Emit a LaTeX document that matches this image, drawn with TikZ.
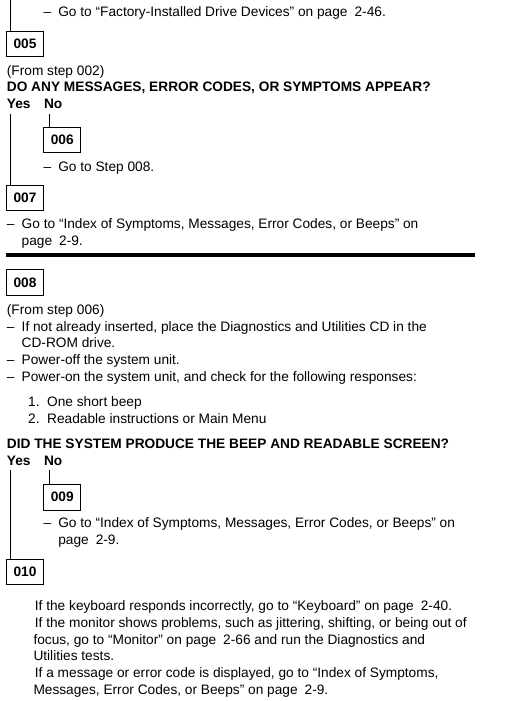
\documentclass[tikz,border=0pt]{standalone}
\usepackage{fontspec}
\setmainfont{Liberation Sans}
\usetikzlibrary{positioning}
\newcommand{\bodyfont}{\fontsize{13.7}{16.7}\selectfont}
\newcommand{\itemdash}{\makebox[14.8pt][l]{–}}
\newcommand{\itemnum}[1]{\makebox[19pt][l]{#1}}
\newcommand{\pg}{\hspace{7pt}}
\tikzset{
  stepbox/.style = {rectangle, draw, line width=1pt, minimum width=37.4pt, minimum height=25.6pt, inner sep=0pt, font=\bodyfont\bfseries},
  txt/.style     = {anchor=base west, inner sep=0pt, font=\bodyfont},
  hd/.style      = {anchor=base west, inner sep=0pt, font=\bodyfont\bfseries},
  link/.style    = {line width=1pt},
  rulebar/.style = {line width=4pt},
}

\begin{document}
\begin{tikzpicture}[x=1pt, y=-1pt]
  \useasboundingbox (0,0) rectangle (504,701);

  % tail of step 004 and step 005
  \coordinate (intop) at (10.3,0);
  \node[txt] (go46) at (43.3,16.7) {\itemdash Go to “Factory-Installed Drive Devices” on page\pg 2-46.};
  \node[stepbox] (s005) at (25,43.9) {005};
  \draw[link] (intop) -- (intop |- s005.north);

  \node[txt] (from002) at (6.7,75) {(From step 002)};
  \node[hd] (q1) at (6.7,91.7) {DO ANY MESSAGES, ERROR CODES, OR SYMPTOMS APPEAR?};
  \node[hd] (yes1) at (6.7,108.3) {Yes};
  \node[hd] (no1) at (43.8,108.3) {No};

  \node[stepbox] (s006) at (62.2,140) {006};
  \node[txt] (go008) at (43.3,171) {\itemdash Go to Step 008.};
  \node[stepbox] (s007) at (25,198) {007};
  \coordinate (yes1l) at (10.3,114);
  \coordinate (no1l) at (49,114);
  \draw[link] (yes1l) -- (yes1l |- s007.north);
  \draw[link] (no1l) -- (no1l |- s006.north);

  \node[txt] (goidx1) at (6.7,228.5) {\itemdash Go to “Index of Symptoms, Messages, Error Codes, or Beeps” on};
  \node[txt] (goidx1b) at (21.5,245) {page\pg 2-9.};

  \coordinate (rulel) at (6,254.5);
  \coordinate (ruler) at (475,254.5);
  \draw[rulebar] (rulel) -- (ruler);

  % step 008
  \node[stepbox] (s008) at (25,282.5) {008};
  \node[txt] (from006) at (6.7,314) {(From step 006)};
  \node[txt] (cd1) at (6.7,331) {\itemdash If not already inserted, place the Diagnostics and Utilities CD in the};
  \node[txt] (cd2) at (21.5,347.7) {CD-ROM drive.};
  \node[txt] (poff) at (6.7,364.3) {\itemdash Power-off the system unit.};
  \node[txt] (pon) at (6.7,381.7) {\itemdash Power-on the system unit, and check for the following responses:};
  \node[txt] (r1) at (28,406.7) {\itemnum{1.}One short beep};
  \node[txt] (r2) at (28,423.7) {\itemnum{2.}Readable instructions or Main Menu};

  \node[hd] (q2) at (6.7,448.3) {DID THE SYSTEM PRODUCE THE BEEP AND READABLE SCREEN?};
  \node[hd] (yes2) at (6.7,465) {Yes};
  \node[hd] (no2) at (43.8,465) {No};

  \node[stepbox] (s009) at (62.2,497.2) {009};
  \node[txt] (goidx2) at (43.3,527.7) {\itemdash Go to “Index of Symptoms, Messages, Error Codes, or Beeps” on};
  \node[txt] (goidx2b) at (58.1,544.5) {page\pg 2-9.};
  \node[stepbox] (s010) at (25,571.8) {010};
  \coordinate (yes2l) at (10.3,470);
  \coordinate (no2l) at (49,470);
  \draw[link] (yes2l) -- (yes2l |- s010.north);
  \draw[link] (no2l) -- (no2l |- s009.north);

  % step 010
  \node[txt] (kb) at (34.7,610.7) {If the keyboard responds incorrectly, go to “Keyboard” on page\pg 2-40.};
  \node[txt] (mon1) at (34.7,627.4) {If the monitor shows problems, such as jittering, shifting, or being out of};
  \node[txt] (mon2) at (33.3,644.1) {focus, go to “Monitor” on page\pg 2-66 and run the Diagnostics and};
  \node[txt] (mon3) at (33.3,660.8) {Utilities tests.};
  \node[txt] (msg1) at (34.7,677.8) {If a message or error code is displayed, go to “Index of Symptoms,};
  \node[txt] (msg2) at (33.3,694.5) {Messages, Error Codes, or Beeps” on page\pg 2-9.};
\end{tikzpicture}
\end{document}
